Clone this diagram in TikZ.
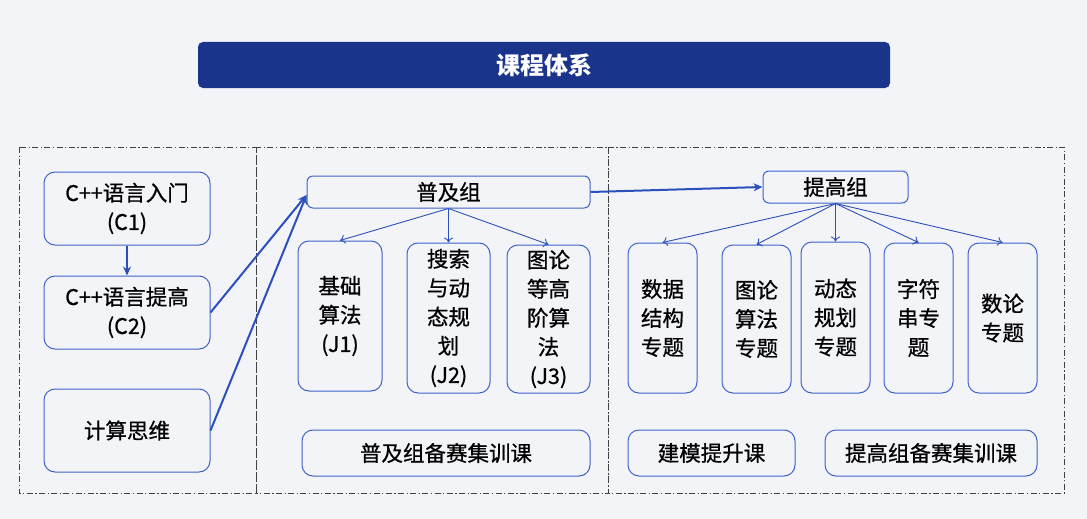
\documentclass[tikz,border=0pt]{standalone}
\usepackage{fontspec}
\setmainfont{Noto Sans CJK SC}
\newfontfamily\medfont[FakeBold=0.7]{Noto Sans CJK SC}
\usetikzlibrary{arrows.meta,calc}
\definecolor{bg}{HTML}{F3F4F8}
\definecolor{boxblue}{HTML}{3F63C8}
\definecolor{arrowblue}{HTML}{2C50BB}
\definecolor{navy}{HTML}{1A348C}
\tikzset{
  box/.style={draw=boxblue, line width=1pt, rounded corners=11pt, align=center, inner sep=0pt,
    font=\medfont\fontsize{21.5}{29}\selectfont, text=black},
  smallbox/.style={box, rounded corners=6pt},
  frame/.style={draw=black!75, line width=0.8pt, dash pattern=on 6pt off 2.5pt on 1.2pt off 2.5pt},
  thickarrow/.style={draw=arrowblue, line width=2pt, -{Stealth[length=9pt,width=8pt]}},
  thinarrow/.style={draw=arrowblue, line width=0.9pt, -{To[length=5pt,width=9pt]}},
}
\newcommand{\bx}[7]{% name, style, x1, y1, x2, y2, text
  \node[#2, minimum width={#5-#3}, minimum height={#6-#4}] (#1) at ({(#3+#5)/2},{(#4+#6)/2}) {#7};}
\begin{document}
\begin{tikzpicture}[x=1pt,y=-1pt]
\fill[bg] (0,0) rectangle (1087,519);
\useasboundingbox (0,0) rectangle (1087,519);
% title
\node[fill=navy, rounded corners=5pt, minimum width=692, minimum height=46, inner sep=0pt,
  text=white, font=\fontsize{24}{28}\selectfont\bfseries] (title) at (544,65) {课程体系};
% frames
\draw[frame] (19,147) rectangle (256,493);
\draw[frame] (256,147) rectangle (608,493);
\draw[frame] (608,147) rectangle (1064,493);
% left column
\bx{c1}{box}{44}{172}{210}{245}{C++语言入门\\(C1)}
\bx{c2}{box}{44}{276}{210}{349}{C++语言提高\\(C2)}
\bx{jssw}{box}{44}{389}{210}{472}{计算思维}
% middle
\bx{pj}{smallbox}{307}{176}{590}{208}{普及组}
\bx{j1}{box}{298}{241}{382}{391}{基础\\算法\\(J1)}
\bx{j2}{box}{407}{243}{490}{393}{搜索\\与动\\态规\\划\\(J2)}
\bx{j3}{box}{507}{245}{590}{393}{图论\\等高\\阶算\\法\\(J3)}
\bx{pjbs}{box}{302}{430}{590}{476}{普及组备赛集训课}
% right
\bx{tg}{smallbox}{763}{171}{908}{203}{提高组}
\bx{t1}{box}{628}{243}{697}{393}{数据\\结构\\专题}
\bx{t2}{box}{722}{245}{791}{393}{图论\\算法\\专题}
\bx{t3}{box}{801}{242}{870}{393}{动态\\规划\\专题}
\bx{t4}{box}{884}{243}{953}{393}{字符\\串专\\题}
\bx{t5}{box}{968}{243}{1037}{393}{数论\\专题}
\bx{jm}{box}{628}{430}{795}{476}{建模提升课}
\bx{tgbs}{box}{825}{430}{1037}{476}{提高组备赛集训课}
% arrows
\draw[thickarrow] (c1.south) -- (c2.north);
\coordinate (pjin) at ($(pj.west)+(0,3)$);
\draw[thickarrow] (c2.east) -- (pjin);
\draw[thickarrow] (jssw.east) -- (pjin);
\draw[thickarrow] (pj.east) -- (tg.west);
\foreach \t in {j1,j2,j3} \draw[thinarrow] (pj.south) -- (\t.north);
\foreach \t in {t1,t2,t3,t4,t5} \draw[thinarrow] (tg.south) -- (\t.north);
\end{tikzpicture}
\end{document}
